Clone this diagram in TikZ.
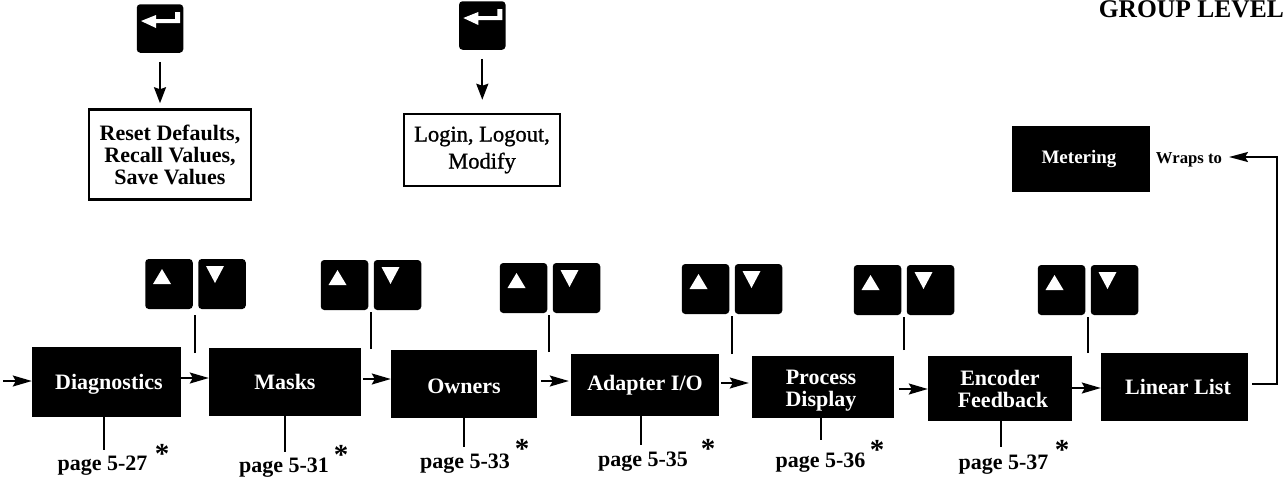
\documentclass[tikz,border=0pt]{standalone}
\usepackage{fontspec}
\setmainfont{Liberation Serif}
\newfontfamily\loginfont[FakeBold=1]{Liberation Serif}
\usetikzlibrary{arrows.meta}

\begin{document}
\begin{tikzpicture}[x=1pt, y=-1pt]
\tikzset{menubox/.style={fill=black, text=white, inner sep=0pt, align=center, font=\bfseries\fontsize{22}{22}\selectfont}}
\tikzset{whitebox/.style={draw, line width=2.5pt, fill=white, inner sep=0pt, align=center, font=\bfseries\fontsize{22}{22}\selectfont}}
\tikzset{padkey/.style={fill=black, rounded corners=3.5pt, inner sep=0pt, minimum width=47.5pt, minimum height=50pt}}
\tikzset{upkey/.style={padkey, path picture={\fill[white, sharp corners, shift={(path picture bounding box.center)}] (-7,-15) -- (2,0) -- (-16,0) -- cycle;}}}
\tikzset{downkey/.style={padkey, path picture={\fill[white, sharp corners, shift={(path picture bounding box.center)}] (-16,-18) -- (2,-18) -- (-7,-1) -- cycle;}}}
\tikzset{enterkey/.style={padkey, minimum width=46.5pt, minimum height=48.5pt, path picture={\fill[white, sharp corners, shift={(path picture bounding box.center)}] (-19,-7.5) -- (-4,-13.5) -- (-4,-9.5) -- (15,-9.5) -- (15,-16.5) -- (20,-16.5) -- (20,-5.5) -- (-4,-5.5) -- (-4,-0.5) -- cycle;}}}
\tikzset{flow/.style={line width=1.5pt, -{Stealth[length=19pt, width=11pt, inset=3pt]}}}
\tikzset{downflow/.style={line width=2pt, shorten <=9pt, -{Stealth[length=16pt, width=12pt, inset=2pt]}}}
\tikzset{stub/.style={line width=1.5pt, shorten >=1.5pt}}
\tikzset{pagetxt/.style={inner sep=0pt, font=\bfseries\fontsize{22}{22}\selectfont}}
\tikzset{startxt/.style={inner sep=0pt, font=\bfseries\fontsize{29}{29}\selectfont}}
\useasboundingbox (0,0) rectangle (1286,480);
\node[inner sep=0pt, font=\bfseries\fontsize{25.5}{26}\selectfont, anchor=base east] (group) at (1284,17.5) {GROUP LEVEL};
% top row
\node[enterkey] (enterA) at (160,28.5) {};
\node[enterkey] (enterB) at (482.3,25.5) {};
\node[whitebox, minimum width=162pt, minimum height=90pt] (resetbox) at (170,154.5) {Reset Defaults,\\Recall Values,\\Save Values};
\node[whitebox, minimum width=156pt, minimum height=72pt, font=\loginfont\fontsize{22.5}{27}\selectfont] (loginbox) at (482,150) {Login, Logout,\\Modify};
\node[menubox, minimum width=138pt, minimum height=66pt] (metering) at (1081,159) {\fontsize{19}{19}\selectfont Metering\hspace*{4pt}};
\node[inner sep=0pt, font=\bfseries\fontsize{16.7}{17}\selectfont] (wraps) at (1189,160) {Wraps to};
\draw[downflow, shorten >=5pt] (enterA) -- (enterA |- resetbox.north);
\draw[downflow, shorten >=13pt] (enterB) -- (enterB |- loginbox.north);
% menu row
\node[menubox, minimum width=149pt, minimum height=70pt] (diag) at (106.5,382) {\rule{0pt}{20pt}\hspace*{5pt}Diagnostics};
\node[menubox, minimum width=152pt, minimum height=68pt] (masks) at (285,382) {Masks};
\node[menubox, minimum width=146pt, minimum height=68pt] (owners) at (464,384) {\rule{0pt}{19pt}Owners};
\node[menubox, minimum width=148pt, minimum height=62pt] (adapter) at (645,385) {Adapter I/O};
\node[menubox, minimum width=142pt, minimum height=62pt] (process) at (823,387) {\rule{0pt}{21pt}\hspace*{-4pt}Process\\\hspace*{-4pt}Display};
\node[menubox, minimum width=144pt, minimum height=65pt] (encoder) at (1000,388.5) {Encoder\\\hspace*{6pt}Feedback};
\node[menubox, minimum width=147pt, minimum height=68pt] (linear) at (1174.5,387) {\hspace*{7pt}Linear List};
\coordinate (entry) at (3,381);
\draw[flow] (entry) -- (diag.west |- entry);
\draw[flow] (diag.east |- 0,378) -- (masks.west |- 0,378);
\draw[flow, shorten <=2pt] (masks.east |- 0,379) -- (owners.west |- 0,379);
\draw[flow, shorten <=4pt, shorten >=2pt] (owners.east |- 0,381) -- (adapter.west |- 0,381);
\draw[flow, shorten <=2pt, shorten >=3pt] (adapter.east |- 0,383) -- (process.west |- 0,383);
\draw[flow, shorten <=5pt] (process.east |- 0,389) -- (encoder.west |- 0,389);
\draw[flow] (encoder.east |- 0,388) -- (linear.west |- 0,388);
\coordinate (wraptip) at (1229,157);
\draw[line width=2pt, shorten <=4pt, -{Stealth[length=19pt, width=10pt, inset=3pt]}] (linear.east |- 0,384) -| (1277,157) -- (wraptip);
% up and down keys
\node[upkey] (upA) at (169,284) {};
\node[downkey] (downA) at (222,284) {};
\node[upkey] (upB) at (344.5,285) {};
\node[downkey] (downB) at (397.5,285) {};
\node[upkey] (upC) at (523.5,288) {};
\node[downkey] (downC) at (576.5,288) {};
\node[upkey] (upD) at (705.5,289) {};
\node[downkey] (downD) at (758.5,289) {};
\node[upkey] (upE) at (877.5,290) {};
\node[downkey] (downE) at (930.5,290) {};
\node[upkey] (upF) at (1061.5,290) {};
\node[downkey] (downF) at (1114.5,290) {};
\coordinate (stubA) at (195,353);
\coordinate (stubB) at (371,349);
\coordinate (stubC) at (549,352);
\coordinate (stubD) at (732,354);
\coordinate (stubE) at (904,350);
\coordinate (stubF) at (1088,353);
\draw[stub, shorten >=6pt] (stubA) -- (stubA |- upA.south);
\draw[stub] (stubB) -- (stubB |- upB.south);
\draw[stub] (stubC) -- (stubC |- upC.south);
\draw[stub] (stubD) -- (stubD |- upD.south);
\draw[stub] (stubE) -- (stubE |- upE.south);
\draw[stub] (stubF) -- (stubF |- upF.south);
% page references
\node[pagetxt] (pageA) at (102.5,466) {page 5-27};
\node[pagetxt] (pageB) at (284,468) {page 5-31};
\node[pagetxt] (pageC) at (465,464) {page 5-33};
\node[pagetxt] (pageD) at (643,462) {page 5-35};
\node[pagetxt] (pageE) at (820.5,463) {page 5-36};
\node[pagetxt] (pageF) at (1003.5,465) {page 5-37};
\node[startxt] (starA) at (162,454) {*};
\node[startxt] (starB) at (341,455) {*};
\node[startxt] (starC) at (522,449) {*};
\node[startxt] (starD) at (708,449) {*};
\node[startxt] (starE) at (877,450) {*};
\node[startxt] (starF) at (1062,450) {*};
\coordinate (tickA) at (104,450);
\coordinate (tickB) at (285,452);
\coordinate (tickC) at (464,447);
\coordinate (tickD) at (641,445);
\coordinate (tickE) at (821,440);
\coordinate (tickF) at (1001,447);
\draw[line width=1.5pt] (tickA |- diag.south) -- (tickA);
\draw[line width=1.5pt] (tickB |- masks.south) -- (tickB);
\draw[line width=1.5pt] (tickC |- owners.south) -- (tickC);
\draw[line width=1.5pt] (tickD |- adapter.south) -- (tickD);
\draw[line width=1.5pt] (tickE |- process.south) -- (tickE);
\draw[line width=1.5pt] (tickF |- encoder.south) -- (tickF);
\end{tikzpicture}
\end{document}
